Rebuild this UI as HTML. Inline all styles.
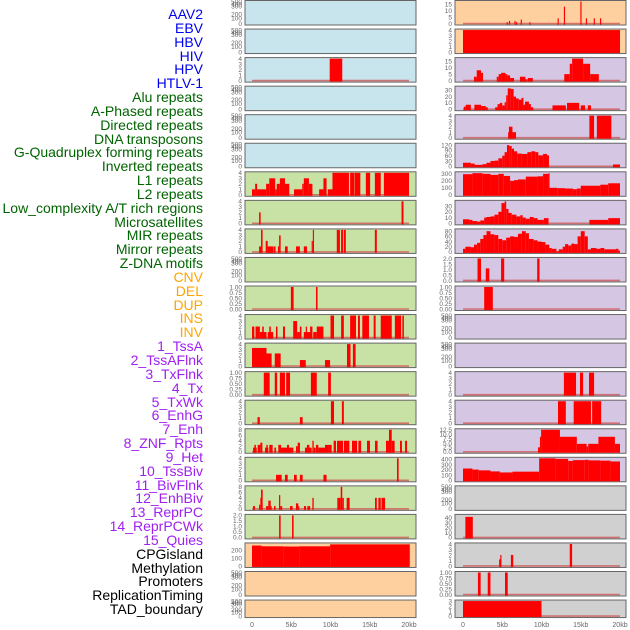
<!DOCTYPE html>
<html><head><meta charset="utf-8"><style>
html,body{margin:0;padding:0;background:#fff;}
#wrap{position:relative;width:630px;height:630px;overflow:hidden;font-family:"Liberation Sans",sans-serif;}
.lab{position:absolute;right:427px;font-size:14px;line-height:14px;white-space:nowrap;}
</style></head><body>
<div id="wrap">
<svg id="svg" width="630" height="630" style="position:absolute;left:0;top:0"></svg>
</div>
<script>
const labels = ["AAV2","EBV","HBV","HIV","HPV","HTLV-1","Alu repeats","A-Phased repeats","Directed repeats","DNA transposons","G-Quadruplex forming repeats","Inverted repeats","L1 repeats","L2 repeats","Low_complexity A/T rich regions","Microsatellites","MIR repeats","Mirror repeats","Z-DNA motifs","CNV","DEL","DUP","INS","INV","1_TssA","2_TssAFlnk","3_TxFlnk","4_Tx","5_TxWk","6_EnhG","7_Enh","8_ZNF_Rpts","9_Het","10_TssBiv","11_BivFlnk","12_EnhBiv","13_ReprPC","14_ReprPCWk","15_Quies","CPGisland","Methylation","Promoters","ReplicationTiming","TAD_boundary"];
const labelGroups = [6,13,5,15,5];
const groupColors = ["#0000ee","#006400","#ffa500","#a020f0","#000000"];
const xTickLabels = ["0","5kb","10kb","15kb","20kb"];
const xTickValues = [0,5,10,15,20];

const T500 = ["0","100","200","300","400","500"];
const T4 = ["0","1","2","3","4"];
const T8 = ["0","2","4","6","8"];
const T1 = ["0.00","0.25","0.50","0.75","1.00"];
const T2 = ["0.0","0.5","1.0","1.5","2.0"];
const T15 = ["0","5","10","15"];

const L2_segs = [[9.9,11.5,4]];
const L6_segs = [[0,0.4,1],[0.4,0.65,2],[0.65,1.8,1],[1.8,2.2,2],[2.2,2.95,3],[2.95,3.15,1],[3.15,3.55,2],[3.55,4.2,3],[4.2,4.75,2],[5.35,6.4,1],[6.4,6.6,2],[6.6,7.25,3],[7.25,7.7,2],[8.55,9.1,1],[9.1,9.5,3],[9.65,10.25,1],[10.25,12.35,4],[12.5,13.05,4],[13.1,13.8,4],[14.5,15.05,4],[15.65,16.4,4],[16.8,20,4]];
const L7_segs = [[0.9,1.1,2],[19.05,19.3,4]];
const L8_segs = [[0.9,1.15,1],[1.15,1.35,4],[1.75,2.0,2],[2.0,2.75,1],[2.8,3.0,1],[3.3,3.45,1],[3.45,3.65,3],[4.2,4.55,1],[5.6,6.1,1],[6.6,7.0,1],[7.6,7.75,2],[7.75,7.9,4],[10.8,11.2,4],[11.35,11.6,4],[11.7,11.95,4],[15.65,15.9,4]];
const L10_segs = [[4.95,5.3,1],[8.15,8.35,1]];
const L11_segs = [[0,0.3,2],[0.45,1.0,2],[1.0,1.85,1],[1.3,1.5,2],[2.0,2.7,1],[2.2,2.4,2],[3.05,3.25,2],[3.95,4.2,2],[5.25,5.75,3],[5.75,6.1,1],[6.1,6.3,2],[6.6,7.6,1],[6.85,7.0,2],[7.4,7.7,2],[7.8,8.25,1],[8.25,9.1,2],[10.0,10.45,4],[11.35,11.7,4],[12.5,13.25,4],[13.5,13.75,4],[14.05,14.9,4],[15.5,15.75,4],[16.4,17.8,4],[18.2,19.0,4],[19.15,19.35,4]];
const L12_segs = [[0,1.85,3.3],[1.85,2.5,2.3],[2.9,3.65,2.3],[6.1,6.85,1.1],[9.3,9.95,1.1],[12.1,12.55,4],[12.85,13.2,4]];
const L13_segs = [[1.5,2.25,1],[2.9,3.2,1],[3.55,4.2,1],[4.35,4.85,1],[7.5,8.25,1],[9.7,10.05,1]];
const L14_segs = [[0.7,1.0,1.1],[6.1,6.45,1.1],[10.05,10.45,4],[11.45,11.7,4]];
const L15_segs = [[0.13,0.6,1.5],[0.3,0.5,2.5],[0.72,1.06,2.5],[1.06,1.32,3.3],[1.66,2.08,1.5],[1.83,2.0,2.5],[2.2,2.63,2.5],[2.85,3.06,1.5],[3.35,3.7,2.5],[3.7,5.27,1.5],[4.46,4.71,2.5],[5.6,5.82,2],[5.82,6.11,3.3],[6.75,7.6,1.5],[7.0,7.3,2.5],[7.69,7.86,4],[7.86,8.11,1.5],[8.15,8.45,2.5],[8.45,9.3,1.5],[9.3,9.8,2.5],[9.8,10.15,2.5],[10.4,10.7,4],[10.83,11.6,4],[11.72,12.4,4],[12.74,13.38,4],[13.55,13.9,4],[14.65,15.03,4],[15.67,16.0,4],[17.07,17.45,4],[17.45,17.8,8],[17.8,18.17,4],[18.85,19.1,4],[19.5,19.75,4]];
const L16_segs = [[3.06,3.78,1],[4.2,4.55,1],[5.35,5.7,1],[6.1,6.45,1],[9.1,9.5,1],[18.47,18.68,4]];
const L17_segs = [[0.13,0.38,1],[0.9,1.06,1.5],[1.06,1.15,4],[1.15,1.36,7],[1.8,2.08,1],[2.08,2.38,3],[2.38,2.5,1],[2.8,3.0,1],[3.44,3.6,5],[3.6,3.85,1],[4.84,5.18,1],[5.6,5.9,2],[5.9,6.0,1],[6.62,6.88,1],[7.05,7.4,1],[7.69,7.86,4],[10.87,11.3,4],[11.3,11.5,8],[11.5,11.7,4],[12.06,12.44,4],[15.67,15.9,4],[16.1,16.4,4],[16.5,16.95,4]];
const L18_segs = [[3.45,3.65,2],[5.1,5.3,2]];
const L19_segs = [[0,1.2,260],[1.2,4,250],[4,6,247],[6,9.95,250],[9.95,20.1,275]];

const R0_segs = [[5.55,5.7,1],[5.85,6.0,2],[6.55,6.7,2],[6.75,6.9,1],[7.35,7.5,3],[8.45,8.6,1],[12.05,12.2,4],[12.85,13.0,13],[14.95,15.1,17],[15.65,15.8,4],[16.65,16.8,4],[17.45,17.6,4]];
const R1_segs = [[0,20,4]];
const R2_segs = [[1.4,1.75,3],[1.75,2.3,8],[2.3,2.55,6],[4.3,4.55,3],[4.55,4.85,5],[4.85,5.4,6],[5.4,5.65,5],[5.65,6.0,4],[6.0,6.5,2],[7.25,7.95,3],[7.95,8.2,1],[8.25,8.9,2],[12.9,13.6,5],[13.6,13.9,13],[13.9,15.3,17],[15.3,16.2,13],[16.2,17.3,5]];
const R3_segs = [[0.1,0.35,4],[0.35,1.0,7],[1.45,2.3,7],[2.3,2.6,5],[2.6,2.9,5],[2.9,3.15,3],[4.1,4.4,3],[4.4,4.7,8],[4.7,5.0,10],[5.0,5.3,6],[5.3,5.5,11],[5.5,5.7,22],[5.7,6.1,33],[6.1,6.45,32],[6.45,6.75,20],[6.75,7.1,17],[7.1,7.45,15],[7.45,7.7,18],[7.7,7.9,7],[7.9,8.4,12],[8.4,8.65,8],[8.65,8.95,3],[11.4,13.1,6],[13.25,14.8,10],[15.0,15.55,6],[15.9,16.3,6]];
const R4_segs = [[5.75,6.0,1],[5.85,6.3,2],[6.3,6.75,1],[16.1,16.7,4],[17.05,18.9,4]];
const R5_segs = [[0,1,20],[1,1.5,15],[1.5,2.5,8],[2.5,3,12],[3,3.5,20],[3.5,4,30],[4,4.5,32],[4.5,5,45],[5,5.3,60],[5.3,5.6,80],[5.6,5.9,120],[5.9,6.2,115],[6.2,6.5,100],[6.5,6.9,85],[6.9,7.5,72],[7.5,8.2,70],[8.2,8.7,80],[8.7,9.2,85],[9.2,9.6,80],[9.6,10.2,62],[10.2,10.7,70],[10.7,10.95,62],[19.1,20,10]];
const R6_segs = [[0,1.2,295],[1.2,2.5,310],[2.5,3.5,300],[3.5,4.5,285],[4.5,5.2,300],[5.2,6,270],[6,6.5,200],[6.5,7,210],[7,8,220],[8,9.5,260],[9.5,10.2,265],[10.2,10.9,300],[10.9,11,310],[11,12,100],[12,13,95],[13,14,90],[14,14.5,80],[14.5,15,90],[15,17.5,130],[17.5,18.5,145],[18.5,20,165]];
const R7_segs = [[0,0.8,7],[0.8,1.2,6],[1.2,1.8,4],[1.8,2.2,3],[2.2,2.7,5],[2.7,3,10],[3,3.5,11],[3.5,4,12],[4,4.5,15],[4.5,4.9,20],[4.9,5.3,35],[5.3,5.5,38],[5.5,5.8,25],[5.8,6.2,18],[6.2,6.8,15],[6.8,7.3,12],[7.3,7.6,14],[7.6,8,10],[8,8.5,8],[8.5,9,11],[9,9.5,9],[9.5,10.3,6],[10.3,10.9,9],[16.1,18.5,6],[18.5,20,9]];
const R8_segs = [[0,0.3,12],[0.3,1,20],[1,1.4,18],[1.4,1.8,28],[1.8,2.2,35],[2.2,2.6,50],[2.6,3,65],[3,3.5,80],[3.5,4,68],[4,4.5,65],[4.5,5,50],[5,5.5,45],[5.5,6,55],[6,6.5,60],[6.5,7,58],[7,7.5,70],[7.5,8,80],[8,8.4,72],[8.4,9,50],[9,9.5,45],[9.5,10,40],[10,10.5,38],[10.5,11,28],[11,11.3,15],[11.3,11.9,12],[11.9,12.2,2],[12.2,12.7,10],[12.7,13,20],[13,13.4,30],[13.4,13.8,25],[13.8,14.2,32],[14.2,14.6,30],[14.6,15,60],[15,15.5,80],[15.5,15.9,60],[15.9,16.3,10],[16.3,17,15],[17,17.5,12],[17.5,18,15],[18,19.5,10],[19.5,19.8,12],[19.8,20,5]];
const R9_segs = [[1.85,2.3,2],[2.9,3.35,1.1],[4.85,5.25,2],[9.45,9.75,2]];
const R10_segs = [[2.7,3.8,1]];
const R13_segs = [[12.85,14.4,4],[14.9,15.3,4],[16.05,16.7,4]];
const R14_segs = [[12.1,13.1,4],[14.1,16.3,4],[16.45,17.6,4]];
const R15_segs = [[9.55,9.8,2.5],[9.8,9.95,8.5],[9.95,12.35,12.5],[12.35,14.5,8.5],[14.5,15.75,4.5],[15.75,15.95,3],[15.95,17.25,4.5],[17.25,19.35,8.5],[19.35,20,4.5]];
const R16_segs = [[0,1.2,225],[1.2,2,205],[2,3.5,190],[3.5,4.7,170],[4.7,6.3,150],[6.3,9.7,165],[9.7,11.8,420],[11.8,13.4,410],[13.4,14,370],[14,15.5,385],[15.5,16,390],[16,17.5,380],[17.5,18.8,375],[18.8,20,360]];
const R18_segs = [[0.3,1.25,42]];
const R19_segs = [[4.6,4.8,1.2],[4.75,4.9,2],[6.1,6.4,2],[13.6,13.9,4]];
const R20_segs = [[1.9,2.25,1],[3.15,3.5,1],[5.35,5.7,1]];
const R21_segs = [[0,10,3]];

const BLUE="#c8e4ec",ORANGE="#ffd09f",PURPLE="#d5c7e3",GREEN="#c8e2a5",GREY="#d0d0d0";
// [side,row,bg,ymax,ticks,tickmax,segs]
const panels = [
 ["L",0,BLUE,null,T500,500,null],["L",1,BLUE,null,T500,500,null],["L",2,BLUE,4,T4,4,L2_segs],["L",3,BLUE,null,T500,500,null],
 ["L",4,BLUE,null,T500,500,null],["L",5,BLUE,null,T500,500,null],["L",6,GREEN,4,T4,4,L6_segs],["L",7,GREEN,4,T4,4,L7_segs],
 ["L",8,GREEN,4,T4,4,L8_segs],["L",9,GREEN,null,T500,500,null],["L",10,GREEN,1,T1,1,L10_segs],["L",11,GREEN,4,T4,4,L11_segs],
 ["L",12,GREEN,4,T4,4,L12_segs],["L",13,GREEN,1,T1,1,L13_segs],["L",14,GREEN,4,T4,4,L14_segs],["L",15,GREEN,8,T8,8,L15_segs],
 ["L",16,GREEN,4,T4,4,L16_segs],["L",17,GREEN,8,T8,8,L17_segs],["L",18,GREEN,2,T2,2,L18_segs],["L",19,ORANGE,280,["0","100","200"],200,L19_segs],
 ["L",20,ORANGE,null,T500,500,null],["L",21,ORANGE,null,T500,500,null],
 ["R",0,ORANGE,17,T15,15,R0_segs],["R",1,ORANGE,4,T4,4,R1_segs],["R",2,PURPLE,17,T15,15,R2_segs],["R",3,PURPLE,35,["0","10","20","30"],30,R3_segs],
 ["R",4,PURPLE,4,T4,4,R4_segs],["R",5,PURPLE,125,["0","30","60","90","120"],120,R5_segs],["R",6,PURPLE,315,["0","100","200","300"],300,R6_segs],
 ["R",7,PURPLE,38,["0","10","20","30"],30,R7_segs],["R",8,PURPLE,85,["0","20","40","60","80"],80,R8_segs],["R",9,PURPLE,2,T2,2,R9_segs],
 ["R",10,PURPLE,1,T1,1,R10_segs],["R",11,PURPLE,null,T500,500,null],["R",12,PURPLE,null,T500,500,null],["R",13,PURPLE,4,T4,4,R13_segs],
 ["R",14,PURPLE,4,T4,4,R14_segs],["R",15,PURPLE,12.5,["0.0","2.5","5.0","7.5","10.0","12.5"],12.5,R15_segs],["R",16,PURPLE,420,["0","100","200","300","400"],400,R16_segs],
 ["R",17,GREY,null,T500,500,null],["R",18,GREY,45,["0","10","20","30","40"],40,R18_segs],["R",19,GREY,4,T4,4,R19_segs],
 ["R",20,GREY,1,T1,1,R20_segs],["R",21,GREY,3,["0","1","2","3"],3,R21_segs]
];
const emptyFrac = [0,0.25,0.42,0.78,0.88,1];

const NS="http://www.w3.org/2000/svg";
const svg=document.getElementById('svg');
function mk(tag,attrs,parent){const e=document.createElementNS(NS,tag);for(const k in attrs)e.setAttribute(k,attrs[k]);(parent||svg).appendChild(e);return e;}
function xs(side){const f=side==="L"?{a:245,x0:252,x1:409}:{a:455,x0:463,x1:620};return f;}
function xScale(side,kb){const f=xs(side);return f.x0+(f.x1-f.x0)*kb/20;}

// labels
const wrap=document.getElementById('wrap');
let li=0;
labelGroups.forEach((n,g)=>{for(let k=0;k<n;k++){const d=document.createElement('div');d.className='lab';d.textContent=labels[li];d.style.top=(15+li*13.84-8)+'px';d.style.color=groupColors[g];


wrap.appendChild(d);li++;}});

panels.forEach(p=>{
 const [side,row,bg,ymax,ticks,tmax,segs]=p;
 const f=xs(side);
 const top=row*28.55+0.5, h=(row===21?17.5:24.5), bot=top+h;
 const g=mk('g',{});
 
 
 mk('rect',{x:f.a,y:top,width:171,height:h,fill:bg,stroke:'#666','stroke-width':1},g);
 const y0=bot-1.5,y1=top+1;
 const yS=v=>y0-(y0-y1)*v/(ymax||500);
 ticks.forEach((t,i)=>{
   let y;
   if(ymax===null) y=y0-(y0-y1)*emptyFrac[i]; else y=yS(tmax*i/(ticks.length-1));
   const tx=mk('text',{x:f.a-3,y:y+2.3,'font-size':6.5,fill:'#666','text-anchor':'end','font-family':'Liberation Sans, sans-serif'},g);
   tx.textContent=t;
   
   
 });
 if(segs){
   mk('line',{x1:xScale(side,0),x2:xScale(side,20),y1:y0,y2:y0,stroke:'#d05a5a','stroke-width':1.6,opacity:0.8},g);
   segs.forEach(s=>{
     const xa=xScale(side,s[0]),xb=xScale(side,s[1]);
     const r=mk('rect',{x:xa,y:yS(s[2]),width:Math.max(1,xb-xa),height:y0-yS(s[2])+1,fill:'#ff0000'},g);
     
     
   });
 }
});
['L','R'].forEach(side=>{
 xTickValues.forEach((v,i)=>{
  const t=mk('text',{x:xScale(side,v),y:627,'font-size':7,fill:'#666','text-anchor':'middle','font-family':'Liberation Sans, sans-serif'});
  t.textContent=xTickLabels[i];
  
  
 });
});
</script>
</body></html>
